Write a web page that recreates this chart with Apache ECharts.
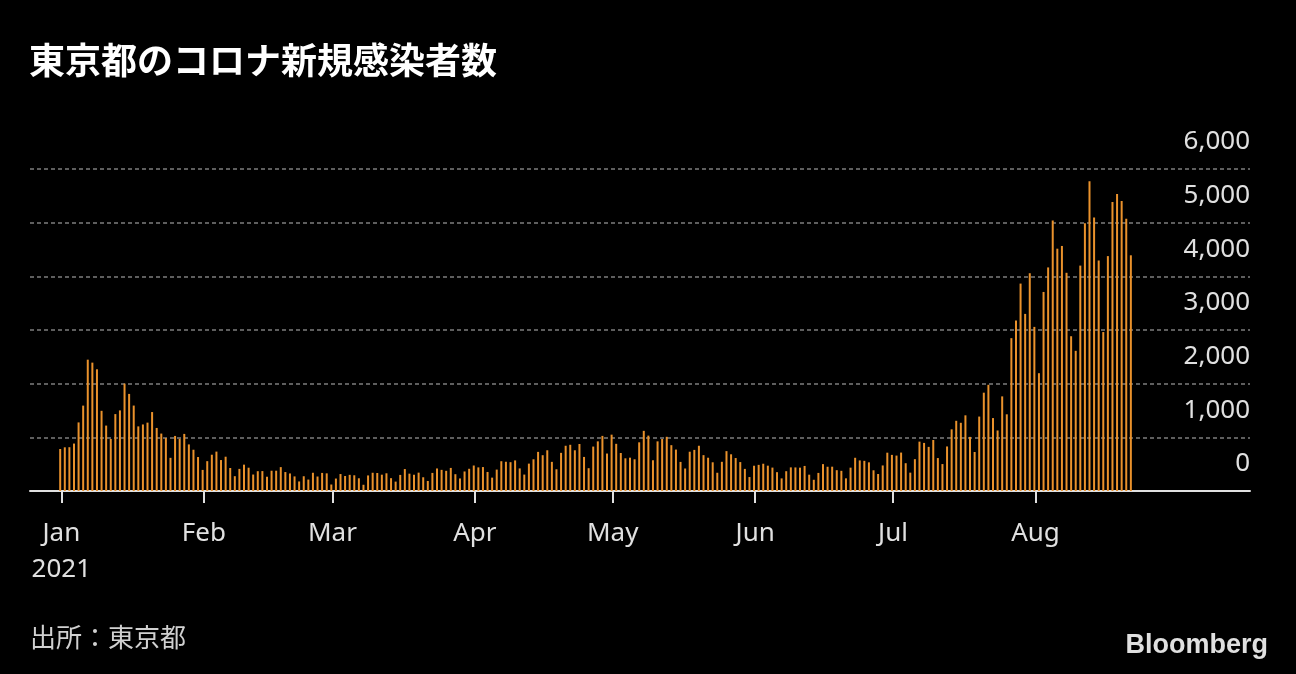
<!DOCTYPE html>
<html>
<head>
<meta charset="utf-8">
<script src="https://cdn.jsdelivr.net/npm/echarts@6/dist/echarts.min.js"></script>
<style>
html,body{margin:0;padding:0;background:#000;}
#chart{width:1296px;height:674px;}
</style>
</head>
<body>
<div id="chart"></div>
<script>
// Daily new cases, Tokyo, 2021-01-01 .. 2021-08-22
const jan = [783,814,816,884,1278,1591,2447,2392,2268,1494,1219,970,1433,1502,2001,1809,1592,1204,1240,1274,1471,1175,1070,986,618,1026,973,1064,868,769,633];
const feb = [393,556,676,734,577,639,429,276,412,491,434,307,369,371,266,378,378,445,353,327,272,178,275,213,340,270,337,329];
const mar = [121,232,316,279,301,293,237,116,290,340,335,304,330,239,175,300,409,323,303,342,256,187,337,420,394,376,430,313,234,364,414];
const apr = [475,440,446,355,249,399,555,545,537,570,421,306,510,591,729,667,759,543,405,711,843,861,759,876,635,425,828,925,1027,698];
const may = [1050,879,708,609,621,591,907,1121,1032,573,925,969,1010,854,772,542,419,732,766,843,668,620,535,340,544,743,684,614,539,412,260];
const jun = [471,487,508,472,436,351,235,369,440,439,435,467,304,209,337,501,452,453,388,376,236,435,619,570,562,534,386,317,476,714];
const jul = [673,660,716,518,342,593,920,896,822,950,614,502,830,1149,1308,1271,1410,1008,727,1387,1832,1979,1359,1128,1763,1429,2848,3177,3865,3300,4058];
const aug = [3058,2195,3709,4166,5042,4515,4566,4066,2884,2612,4200,4989,5773,5094,4295,2962,4377,5386,5534,5405,5074,4392];

const monthLabels = ['Jan\n2021','Feb','Mar','Apr','May','Jun','Jul','Aug'];
const monthStarts = [0,31,59,90,120,151,181,212]; // day index of each month's first day
const yTicks = [0,1000,2000,3000,4000,5000,6000];

const values = [].concat(jan,feb,mar,apr,may,jun,jul,aug);
const data = values.map((v,i)=>[i,v]);
const tickPos = monthStarts.map(d=>d+0.25);
const labelMap = {};
tickPos.forEach((p,i)=>{labelMap[p.toFixed(2)] = monthLabels[i];});

const chart = echarts.init(document.getElementById('chart'), null, {renderer:'canvas'});
chart.setOption({
  backgroundColor:'#000',
  animation:false,
  title:{
    text:'東京都のコロナ新規感染者数',
    left:24, top:37,
    textStyle:{color:'#fff',fontSize:36,fontWeight:'bold',fontFamily:'"Noto Sans CJK JP"'}
  },
  grid:{left:30,right:46,top:169,bottom:183},
  xAxis:{
    type:'value',
    min:-6.572, max:258.93,
    axisLine:{show:true,onZero:false,lineStyle:{color:'#e0e0e0',width:2}},
    axisTick:{show:true,customValues:tickPos,length:12,lineStyle:{color:'#e0e0e0',width:2}},
    axisLabel:{
      customValues:tickPos,
      formatter:(v)=>labelMap[v.toFixed(2)]||'',
      color:'#e0e0e0',fontSize:26,lineHeight:36,margin:25,
      fontFamily:'"Noto Sans"'
    },
    splitLine:{show:false}
  },
  yAxis:{
    type:'value',
    position:'right',
    min:0,max:6000,interval:1000,
    axisLine:{show:false},
    axisTick:{show:false},
    splitLine:{show:true,showMinLine:false,lineStyle:{color:'#5e5e5e',width:2,type:[4,3]}},
    axisLabel:{
      inside:true,margin:0,verticalAlign:'bottom',align:'right',
      padding:[0,0,14,0],lineHeight:26,
      color:'#e0e0e0',fontSize:26,fontFamily:'"Noto Sans"',
      formatter:(v)=>v.toLocaleString('en-US')
    }
  },
  series:[{
    type:'bar',
    data:data,
    barWidth:2,
    itemStyle:{color:'#EA922C'}
  }],
  graphic:[
    {type:'text',left:30,top:624,style:{text:'出所：東京都',fill:'#d0d0d0',fontSize:26,fontFamily:'"Noto Sans CJK JP"'}},
    {type:'text',right:28,top:632,style:{text:'Bloomberg',fill:'#e0e0e0',fontSize:27,fontWeight:'bold',fontFamily:'"Liberation Sans"'}}
  ]
});
</script>
</body>
</html>
